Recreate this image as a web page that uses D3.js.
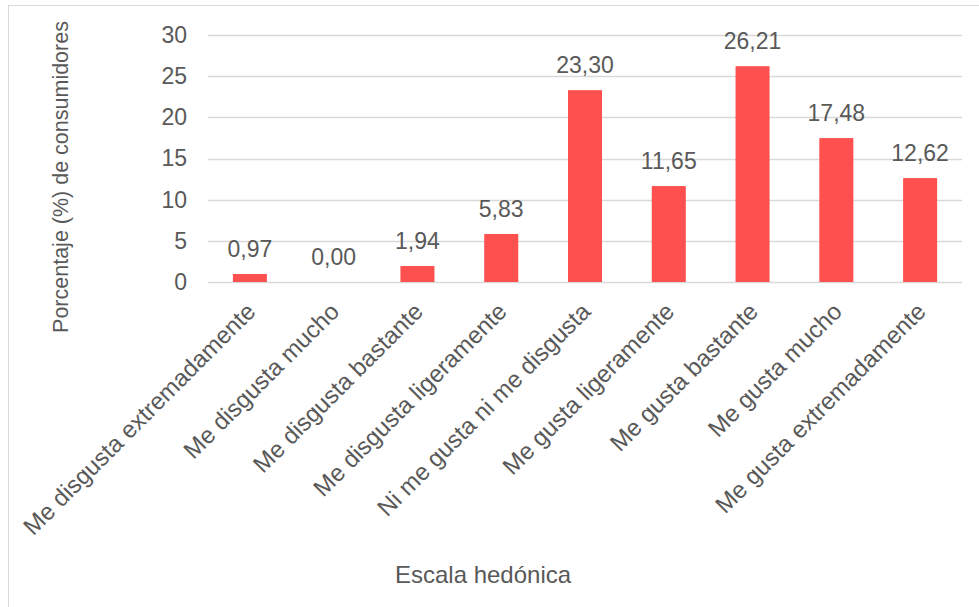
<!DOCTYPE html>
<html>
<head>
<meta charset="utf-8">
<script src="https://cdn.jsdelivr.net/npm/d3@7"></script>
<style>
  body { margin: 0; background: #fff; }
  text { font-family: "Liberation Sans", Arial, sans-serif; fill: #595959; }
</style>
</head>
<body>
<svg id="chart" width="979" height="607"></svg>
<script>
const categories = [
  "Me disgusta extremadamente",
  "Me disgusta mucho",
  "Me disgusta bastante",
  "Me disgusta ligeramente",
  "Ni me gusta ni me disgusta",
  "Me gusta ligeramente",
  "Me gusta bastante",
  "Me gusta mucho",
  "Me gusta extremadamente"
];
const values = [0.97, 0.00, 1.94, 5.83, 23.30, 11.65, 26.21, 17.48, 12.62];
const yTicks = [0, 5, 10, 15, 20, 25, 30];

const svg = d3.select("#chart");
const margin = { left: 208, right: 17, top: 35, bottom: 325 };
const width = 979, height = 607;

// chart border
svg.append("rect")
  .attr("x", 8.5).attr("y", 5.5)
  .attr("width", 980).attr("height", 620)
  .attr("fill", "none").attr("stroke", "#d9d9d9");

const x = d3.scaleBand()
  .domain(categories)
  .range([margin.left, width - margin.right])
  .paddingInner(0.594)
  .paddingOuter(0.297);

const y = d3.scaleLinear()
  .domain([0, 30])
  .range([height - margin.bottom, margin.top]);

// gridlines
svg.append("g")
  .selectAll("line")
  .data(yTicks)
  .join("line")
  .attr("x1", margin.left).attr("x2", width - margin.right)
  .attr("y1", d => Math.round(y(d)) + 0.5).attr("y2", d => Math.round(y(d)) + 0.5)
  .attr("stroke", "#d9d9d9").attr("stroke-width", 1.5);

// y axis labels
const yAxis = d3.axisLeft(y).tickValues(yTicks).tickSize(0).tickPadding(21);
svg.append("g")
  .attr("transform", "translate(" + margin.left + ",0)")
  .call(yAxis)
  .call(g => g.select(".domain").remove())
  .selectAll("text")
  .style("font-size", "23px")
  .attr("fill", "#595959");

// bars
svg.append("g")
  .selectAll("rect")
  .data(values)
  .join("rect")
  .attr("x", (d, i) => x(categories[i]))
  .attr("y", d => y(d))
  .attr("width", x.bandwidth())
  .attr("height", d => y(0) - y(d))
  .attr("fill", "#ff5050");

// value labels
svg.append("g")
  .selectAll("text")
  .data(values)
  .join("text")
  .attr("x", (d, i) => x(categories[i]) + x.bandwidth() / 2)
  .attr("y", d => y(d) - 17)
  .attr("text-anchor", "middle")
  .style("font-size", "23px")
  .text(d => d.toFixed(2).replace(".", ","));

// x axis category labels
const xAxis = d3.axisBottom(x).tickSize(0).tickPadding(0);
svg.append("g")
  .attr("transform", "translate(0," + y(0) + ")")
  .call(xAxis)
  .call(g => g.select(".domain").remove())
  .selectAll("text")
  .style("font-size", "24px")
  .attr("fill", "#595959")
  .attr("text-anchor", "end")
  .attr("dy", null)
  .attr("transform", "translate(7,31) rotate(-45)");

// axis titles
svg.append("text")
  .attr("transform", "translate(68,177) rotate(-90)")
  .attr("text-anchor", "middle")
  .style("font-size", "21.5px")
  .text("Porcentaje (%) de consumidores");

svg.append("text")
  .attr("x", 483).attr("y", 583)
  .attr("text-anchor", "middle")
  .style("font-size", "24px")
  .text("Escala hedónica");
</script>
</body>
</html>
